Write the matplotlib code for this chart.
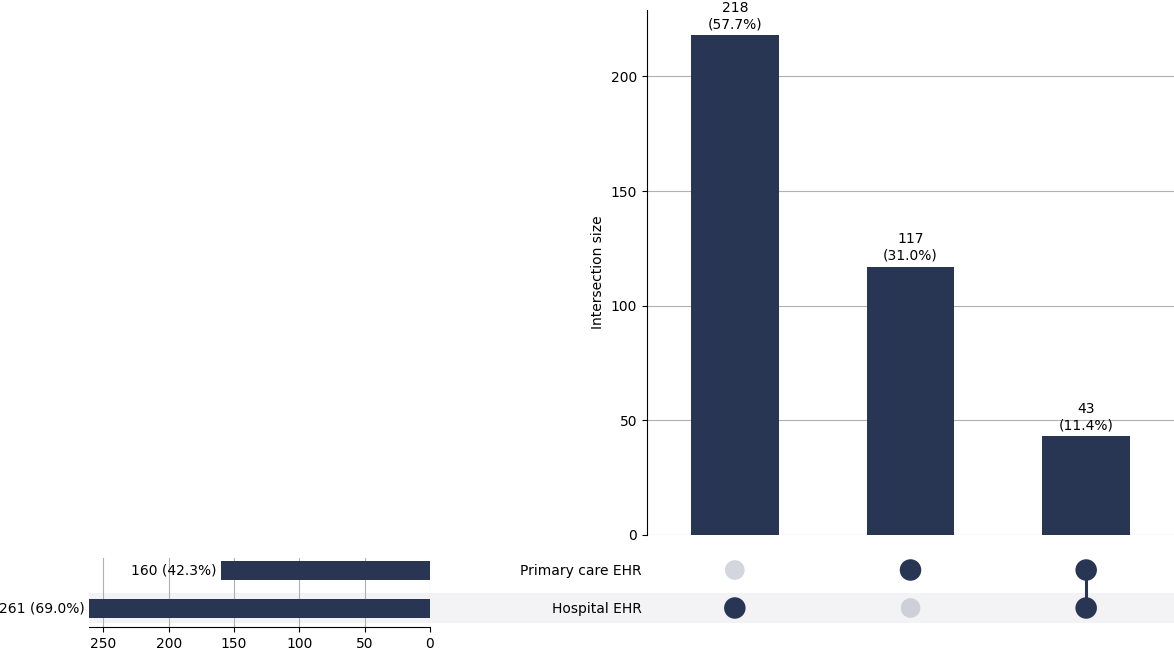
import matplotlib
matplotlib.use("Agg")
import matplotlib.pyplot as plt
from matplotlib.patches import Rectangle
import numpy as np

# sets (matrix rows, bottom to top)
set_names = ["Hospital EHR", "Primary care EHR"]
set_totals = [261, 160]
set_pct = [69.0, 42.3]

# intersections (columns)
inter_sizes = [218, 117, 43]
inter_pct = [57.7, 31.0, 11.4]
# membership[row][col]
membership = [[1, 0, 1],
              [0, 1, 1]]

navy = "#283654"
light = "#d3d6dd"
W, H = 1174, 650

fig = plt.figure(figsize=(W / 100, H / 100), dpi=100)

def px_axes(x0, y0, x1, y1):
    # pixel box (top-left origin) -> figure axes
    return fig.add_axes([x0 / W, 1 - y1 / H, (x1 - x0) / W, (y1 - y0) / H])

# shading behind the Hospital row, on a background axes
ax_bg = fig.add_axes([0, 0, 1, 1], zorder=-1)
ax_bg.set_xlim(0, W)
ax_bg.set_ylim(H, 0)
ax_bg.axis("off")
ax_bg.add_patch(Rectangle((89, 593), W - 89, 30, color="#f3f3f5", lw=0))

# intersection bars
ax_bar = px_axes(647, 10, 1174, 535)
x = np.arange(len(inter_sizes))
ax_bar.bar(x, inter_sizes, width=0.5, color=navy, zorder=3)
for xi, v, p in zip(x, inter_sizes, inter_pct):
    ax_bar.annotate(f"{v}\n({p:.1f}%)", (xi, v), xytext=(0, 3),
                    textcoords="offset points", ha="center", va="bottom", fontsize=10)
ax_bar.set_xlim(-0.5, len(x) - 0.5)
ax_bar.set_ylim(0, 229)
ax_bar.set_yticks([0, 50, 100, 150, 200])
ax_bar.set_xticks([])
ax_bar.yaxis.grid(True, color="#b0b0b0", lw=0.8, zorder=0)
ax_bar.set_axisbelow(True)
for s in ["top", "right", "bottom"]:
    ax_bar.spines[s].set_visible(False)
ax_bar.set_ylabel("Intersection size", fontsize=10)
ax_bar.patch.set_alpha(0)

# matrix
ax_mat = px_axes(647, 551, 1174, 627)
rows = np.arange(len(set_names))
for ci in x:
    active = [r for r in rows if membership[r][ci]]
    for r in rows:
        if membership[r][ci]:
            ax_mat.scatter(ci, r, s=240, color=navy, zorder=3, edgecolors="none")
        else:
            ax_mat.scatter(ci, r, s=200, color="#cdd0d8" if r == 0 else light,
                           zorder=3, edgecolors="none")
    if len(active) > 1:
        ax_mat.plot([ci, ci], [min(active), max(active)], color=navy, lw=2.2, zorder=2)
ax_mat.set_xlim(-0.5, len(x) - 0.5)
ax_mat.set_ylim(-0.5, len(rows) - 0.5)
ax_mat.set_yticks(rows)
ax_mat.set_yticklabels(set_names, fontsize=10)
ax_mat.tick_params(axis="y", length=0, pad=4)
ax_mat.set_xticks([])
for s in ax_mat.spines.values():
    s.set_visible(False)
ax_mat.patch.set_alpha(0)

# set totals (axes is a bit shorter at the top, rows keep 38 px spacing)
ax_tot = px_axes(89, 558, 430, 627)
ax_tot.barh(rows, set_totals, height=0.5, color=navy, zorder=3)
for r, v, p in zip(rows, set_totals, set_pct):
    ax_tot.annotate(f"{v} ({p:.1f}%)", (v, r), xytext=(-3, 0),
                    textcoords="offset points", ha="right", va="center", fontsize=10)
ax_tot.set_xlim(max(set_totals), 0)
ax_tot.set_ylim(-0.5, -0.5 + 69 / 38)
ax_tot.set_xticks([250, 200, 150, 100, 50, 0])
ax_tot.set_yticks([])
ax_tot.xaxis.grid(True, color="#b0b0b0", lw=0.8, zorder=0)
ax_tot.set_axisbelow(True)
for s in ["top", "left", "right"]:
    ax_tot.spines[s].set_visible(False)
ax_tot.patch.set_alpha(0)

fig.savefig("out.png", dpi=100)
